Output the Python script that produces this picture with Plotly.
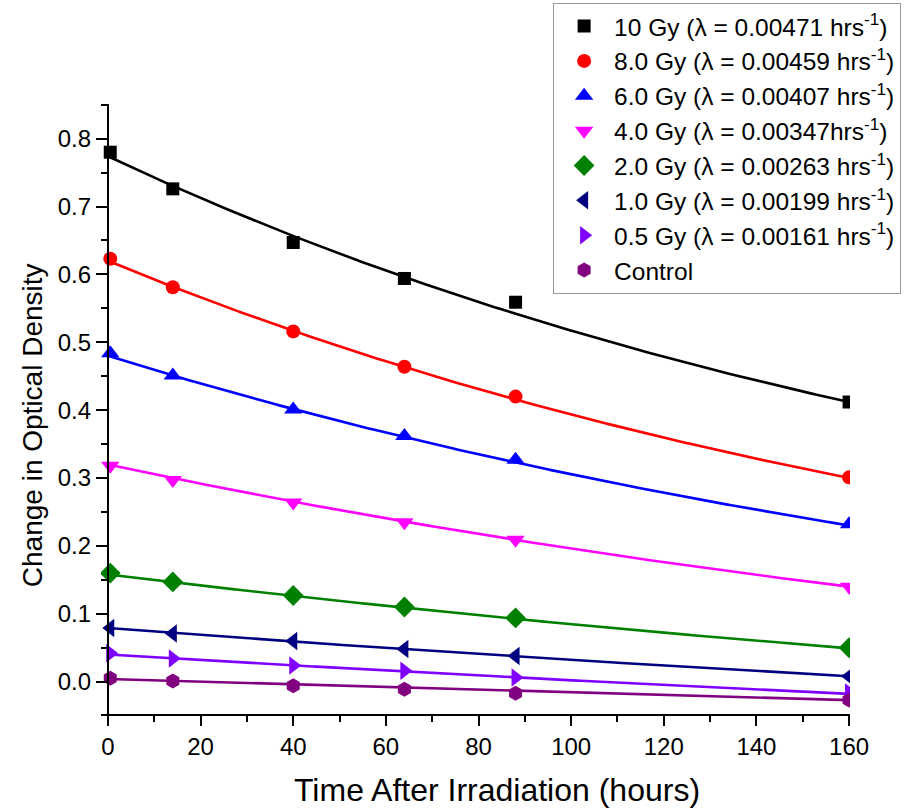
import numpy as np
import plotly.graph_objects as go

# Sampling times (hours after irradiation)
times = [0.5, 14, 40, 64, 88, 160]

# Measured change in optical density for each dose
od_10gy = [0.780, 0.726, 0.647, 0.594, 0.559, 0.412]
od_8gy = [0.623, 0.581, 0.516, 0.464, 0.420, 0.301]
od_6gy = [0.484, 0.451, 0.401, 0.362, 0.327, 0.232]
od_4gy = [0.318, 0.297, 0.264, 0.235, 0.209, 0.140]
od_2gy = [0.160, 0.147, 0.127, 0.110, 0.094, 0.050]
od_1gy = [0.079, 0.071, 0.060, 0.048, 0.038, 0.008]
od_05gy = [0.042, 0.034, 0.024, 0.016, 0.006, -0.016]
od_control = [0.005, 0.001, -0.006, -0.011, -0.017, -0.027]

# Exponential fit parameters: y = offset + amp * exp(-lambda * t)
fit_lambda = [0.00471, 0.00459, 0.00407, 0.00347, 0.00263, 0.00199, 0.00161]
fit_amp = [0.684, 0.615, 0.522, 0.4225, 0.317, 0.260, 0.2554]
fit_offset = [0.090, 0.005, -0.042, -0.1025, -0.159, -0.181, -0.2154]
# Linear fit for the unirradiated control: y = intercept + slope * t
control_fit = [0.004, -0.000195]

labels = [
    "10 Gy (λ = 0.00471 hrs<sup>-1</sup>)",
    "8.0 Gy (λ = 0.00459 hrs<sup>-1</sup>)",
    "6.0 Gy (λ = 0.00407 hrs<sup>-1</sup>)",
    "4.0 Gy (λ = 0.00347hrs<sup>-1</sup>)",
    "2.0 Gy (λ = 0.00263 hrs<sup>-1</sup>)",
    "1.0 Gy (λ = 0.00199 hrs<sup>-1</sup>)",
    "0.5 Gy (λ = 0.00161 hrs<sup>-1</sup>)",
    "Control",
]
series = [od_10gy, od_8gy, od_6gy, od_4gy, od_2gy, od_1gy, od_05gy, od_control]
colors = ["#000000", "#FF0000", "#0000FF", "#FF00FF", "#008000", "#000080", "#7F00FF", "#800080"]
symbols = ["square", "circle", "triangle-up", "triangle-down", "diamond",
           "triangle-left", "triangle-right", "hexagon"]
sizes = [13, 14, 16, 16, 16, 16, 16, 15]

fig = go.Figure()

t_fit = np.linspace(0, 160, 200)
for i, c in enumerate(colors):
    if i < len(fit_lambda):
        y_fit = fit_offset[i] + fit_amp[i] * np.exp(-fit_lambda[i] * t_fit)
    else:
        y_fit = control_fit[0] + control_fit[1] * t_fit
    fig.add_trace(go.Scatter(x=t_fit, y=y_fit, mode="lines",
                             line=dict(color=c, width=2.6),
                             showlegend=False, hoverinfo="skip"))

for i, (lab, ys) in enumerate(zip(labels, series)):
    fig.add_trace(go.Scatter(x=times, y=ys, mode="markers", name=lab,
                             legendgroup=f"g{i}",
                             marker=dict(symbol=symbols[i], size=sizes[i], color=colors[i],
                                         line=dict(width=0))))

narrow = "Liberation Sans Narrow, Arial Narrow, Liberation Sans, Arial, sans-serif"
regular = "Liberation Sans, Arial, sans-serif"

x_lo, x_hi = -1.5, 160.2
fig.update_layout(
    width=913, height=810,
    margin=dict(l=101, r=63, t=104, b=96, autoexpand=False),
    paper_bgcolor="white", plot_bgcolor="white",
    font=dict(family=regular, color="black"),
    xaxis=dict(range=[x_lo, x_hi], showgrid=False, zeroline=False,
               showline=True, linecolor="black", linewidth=2,
               ticks="outside", ticklen=10, tickwidth=2, tickcolor="black",
               tickvals=[0, 20, 40, 60, 80, 100, 120, 140, 160],
               tickfont=dict(family=narrow, size=24),
               minor=dict(ticks="outside", ticklen=6, tickwidth=2, tickcolor="black", dtick=10, tick0=0)),
    yaxis=dict(range=[-0.0476, 0.851], showgrid=False, zeroline=False,
               anchor="free", position=(0 - x_lo) / (x_hi - x_lo),
               showline=True, linecolor="black", linewidth=2,
               ticks="outside", ticklen=11, tickwidth=2, tickcolor="black",
               dtick=0.1, tick0=0, tickformat=".1f",
               tickfont=dict(family=regular, size=24),
               minor=dict(ticks="outside", ticklen=6, tickwidth=2, tickcolor="black", dtick=0.05, tick0=0)),
    legend=dict(x=(553 - 100.7) / 749.3, y=(714 - 3) / 609.7, xanchor="left", yanchor="top",
                bgcolor="white", bordercolor="#999999", borderwidth=1,
                itemwidth=50,
                font=dict(family=regular, size=24.5), tracegroupgap=0),
    annotations=[
        dict(text="Change in Optical Density", textangle=-90, xref="paper", yref="paper",
             x=(33 - 100.7) / 749.3, y=(714 - 425) / 609.7, showarrow=False,
             xanchor="center", yanchor="middle", font=dict(family=regular, size=28)),
        dict(text="Time After Irradiation (hours)", xref="paper", yref="paper",
             x=(497 - 100.7) / 749.3, y=(714 - 790) / 609.7, showarrow=False,
             xanchor="center", yanchor="middle", font=dict(family=narrow, size=32)),
    ],
)

fig.write_html("out.html")
